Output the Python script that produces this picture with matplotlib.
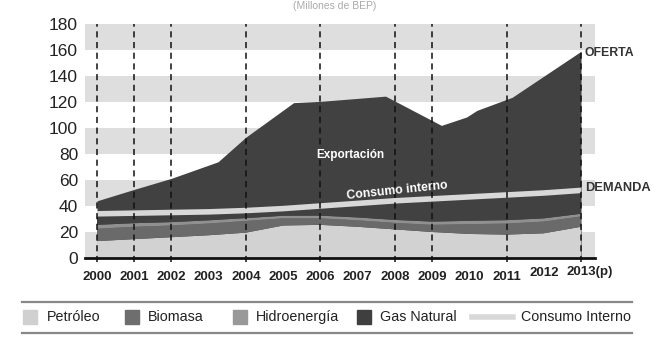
import numpy as np
import matplotlib
matplotlib.use("Agg")
import matplotlib.pyplot as plt
from matplotlib.patches import Rectangle
from matplotlib.lines import Line2D
from matplotlib.transforms import ScaledTranslation

plt.rcParams['font.family'] = ['Liberation Sans', 'DejaVu Sans']

# ---- data ----
years = [2000, 2001, 2002, 2003, 2004, 2005, 2006, 2007, 2008, 2009, 2010, 2011, 2012, 2013]
year_labels = ['2000', '2001', '2002', '2003', '2004', '2005', '2006', '2007',
               '2008', '2009', '2010', '2011', '2012', '2013(p)']
petroleo = [13, 14.5, 16, 17.5, 19.5, 25, 25.5, 24, 22, 20, 18.5, 18, 19, 24]
biomasa = [9.5, 9.5, 9, 9, 9, 5.5, 5, 5, 5, 5.5, 7.5, 8.5, 9, 8]
hidroenergia = [3, 2.8, 2.6, 2.5, 2.2, 2, 2.1, 2.2, 2.3, 2.5, 2.6, 2.6, 2.5, 2]
consumo_interno = [34, 34.5, 35, 35.5, 36.5, 38, 40, 42, 44, 45.5, 47, 48.5, 50, 52]
gas_natural = [c - p - b - h for c, p, b, h in zip(consumo_interno, petroleo, biomasa, hidroenergia)]

oferta_years = [2000, 2001, 2002, 2003.25, 2004, 2005.28, 2006, 2007.75, 2009.25,
                2009.93, 2010.2, 2011.15, 2013]
oferta = [44, 52.8, 61.3, 74, 93, 119.5, 120.5, 124.5, 102, 108.5, 113.5, 123.6, 159]

dashed_years = [2000, 2001, 2002, 2004, 2006, 2008, 2009, 2011, 2013]

legend_labels = ['Petróleo', 'Biomasa', 'Hidroenergía', 'Gas Natural', 'Consumo Interno']

# ---- colors ----
c_pet = '#d2d2d2'
c_bio = '#6a6a6a'
c_hid = '#909090'
c_gas = '#414141'
c_line = '#d8d8d8'
c_band = '#dedede'

W, H = 670, 350
fig = plt.figure(figsize=(6.7, 3.5), dpi=100)
ax = fig.add_axes([85/W, 1-258/H, (595-85)/W, 234/H])

ax.set_xlim(2000 - 12/37.23, 2013 + 14/37.23)
ax.set_ylim(0, 180)

# background bands
for lo in range(0, 180, 40):
    ax.axhspan(lo, lo + 20, color=c_band, lw=0, zorder=0)

# oferta (exportation area, gas)
ax.fill_between(oferta_years, 0, oferta, color=c_gas, lw=0, zorder=1)
# stacked domestic supply
ax.stackplot(years, petroleo, biomasa, hidroenergia, gas_natural,
             colors=[c_pet, c_bio, c_hid, c_gas], lw=0, zorder=2)
# consumo interno line
ax.plot(years, consumo_interno, color=c_line, lw=4, zorder=3, solid_capstyle='butt')

# dashed verticals
for yv in dashed_years:
    ax.plot([yv, yv], [-3, 180], color='#111111', lw=1.1, ls=(0, (4, 3)),
            zorder=4, clip_on=False)

# axes styling
for s in ['top', 'right', 'left']:
    ax.spines[s].set_visible(False)
ax.spines['bottom'].set_linewidth(2)
ax.spines['bottom'].set_color('#111111')
ax.spines['bottom'].set_zorder(5)

ax.set_yticks(range(0, 181, 20))
ax.tick_params(axis='y', length=0, labelsize=12.5, pad=5, labelcolor='#222222')
ax.set_xticks(years)
ax.set_xticklabels(year_labels, fontweight='bold', fontsize=9.5, color='#222222')
ax.tick_params(axis='x', length=0, pad=9)
xl = ax.get_xticklabels()
up = ScaledTranslation(0, 4/100, fig.dpi_scale_trans)
xl[-2].set_transform(xl[-2].get_transform() + up)
xl[-1].set_horizontalalignment('left')
xl[-1].set_transform(xl[-1].get_transform() + up +
                     ScaledTranslation(-14/100, 0, fig.dpi_scale_trans))

# annotations
ax.text(2006.8, 79, 'Exportación', color='white', fontweight='bold', fontsize=8.5,
        ha='center', va='center', zorder=6)
ax.text(2008.05, 51.5, 'Consumo interno', color='white', fontweight='bold', fontsize=8.8,
        ha='center', va='center', rotation=6, zorder=6)
ax.text(2013.1, 158, 'OFERTA', color='#333333', fontweight='bold', fontsize=8.8,
        ha='left', va='center', clip_on=False, zorder=6)
ax.text(2013.1, 54, 'DEMANDA', color='#333333', fontweight='bold', fontsize=9.3,
        ha='left', va='center', clip_on=False, zorder=6)

# title at very top (mostly cut in the reference)
fig.text(0.5, 1 - 1/H, '(Millones de BEP)', ha='center', va='top', fontsize=7.5,
         color='#aaaaaa')

# manual legend
leg_colors = ['#d0d0d0', '#6e6e6e', '#999999', '#3f3f3f']
patch_x = [23, 125, 233, 357]
text_x = [47, 148, 256, 380, 521]
yc = 317
for px, col in zip(patch_x, leg_colors):
    fig.add_artist(Rectangle((px/W, 1-(yc+7)/H), 14/W, 14/H, color=col,
                             transform=fig.transFigure))
fig.add_artist(Line2D([472/W, 513/W], [1-yc/H, 1-yc/H], color=c_line, lw=4,
                      transform=fig.transFigure))
for tx, lab in zip(text_x, legend_labels):
    fig.text(tx/W, 1-yc/H, lab, ha='left', va='center', fontsize=10.3, color='#222222')
for yy in [302, 333]:
    fig.add_artist(Line2D([22/W, 632/W], [1-yy/H, 1-yy/H], color='#888888', lw=1.6,
                          transform=fig.transFigure))

fig.savefig('out.png', dpi=100)
